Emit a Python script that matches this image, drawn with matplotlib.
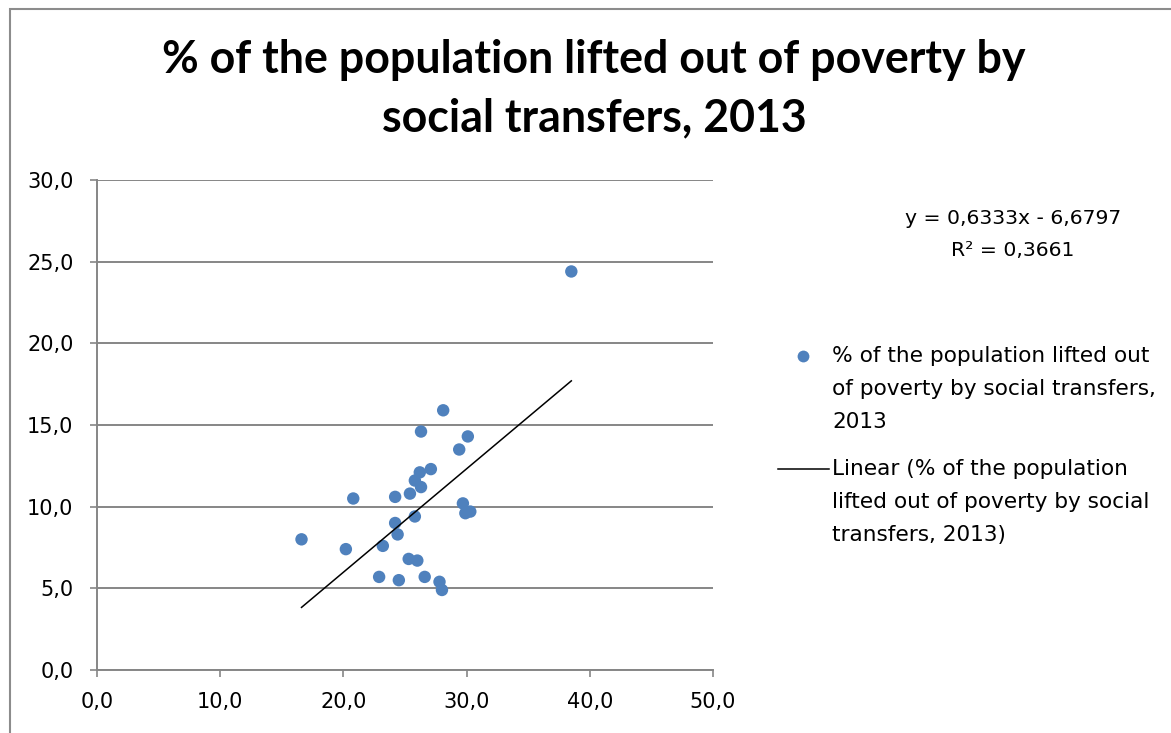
import matplotlib
matplotlib.use("Agg")
import matplotlib.pyplot as plt
from matplotlib.lines import Line2D
from matplotlib.patches import Rectangle
from matplotlib.ticker import FuncFormatter, MultipleLocator

# poverty rate before transfers (x) vs. share lifted out by transfers (y)
before_transfers = [28.1, 26.3, 30.1, 29.4, 27.1, 26.2, 25.8, 26.3, 25.4, 24.2,
                    20.8, 29.7, 29.9, 30.3, 25.8, 24.2, 24.4, 16.6, 20.2, 23.2,
                    25.3, 26.0, 22.9, 24.5, 26.6, 27.8, 28.0, 38.5]
lifted_out = [15.9, 14.6, 14.3, 13.5, 12.3, 12.1, 11.6, 11.2, 10.8, 10.6,
              10.5, 10.2, 9.6, 9.7, 9.4, 9.0, 8.3, 8.0, 7.4, 7.6,
              6.8, 6.7, 5.7, 5.5, 5.7, 5.4, 4.9, 24.4]

# linear trend as reported on the chart
slope = 0.6333
intercept = -6.6797
r_squared = 0.3661

series_label = "% of the population lifted out\nof poverty by social transfers,\n2013"
trend_label = "Linear (% of the population\nlifted out of poverty by social\ntransfers, 2013)"

W, H = 1171, 733
fig = plt.figure(figsize=(W / 100, H / 100), dpi=100)
fig.patch.set_facecolor("white")


def fx(px):
    return px / W


def fy(py):
    return 1 - py / H


# outer chart frame
fig.add_artist(Rectangle((fx(10), -0.1), 1.2, fy(9) + 0.1, transform=fig.transFigure,
                         fill=False, edgecolor="#8c8c8c", linewidth=1.5))

ax = fig.add_axes([fx(97), fy(670), fx(713) - fx(97), fy(180) - fy(670)])

grid_col = "#868686"
ax.set_xlim(0, 50)
ax.set_ylim(0, 30)
ax.xaxis.set_major_locator(MultipleLocator(10))
ax.yaxis.set_major_locator(MultipleLocator(5))
fmt = FuncFormatter(lambda v, pos: f"{v:.1f}".replace(".", ","))
ax.xaxis.set_major_formatter(fmt)
ax.yaxis.set_major_formatter(fmt)

ax.grid(axis="y", color=grid_col, linewidth=1.4)
ax.set_axisbelow(True)
for side in ["top", "right"]:
    ax.spines[side].set_visible(False)
for side in ["left", "bottom"]:
    ax.spines[side].set_color(grid_col)
    ax.spines[side].set_linewidth(1.4)
ax.tick_params(direction="out", length=5, width=1.2, color=grid_col,
               labelsize=15, labelcolor="black")
ax.tick_params(axis="y", pad=12)
ax.tick_params(axis="x", pad=11)

dot_col = "#4F81BD"
ax.scatter(before_transfers, lifted_out, s=80, color=dot_col, edgecolors="none",
           zorder=3, clip_on=False)

x0, x1 = min(before_transfers), max(before_transfers)
ax.plot([x0, x1], [slope * x0 + intercept, slope * x1 + intercept],
        color="black", linewidth=1.1, zorder=4)

# title
title_font = dict(family=["Lato", "DejaVu Sans"], fontweight="bold",
                  fontsize=32.2, ha="center", va="baseline")
fig.text(fx(594), fy(73), "% of the population lifted out of poverty by", **title_font)
fig.text(fx(594), fy(131), "social transfers, 2013", **title_font)

# trend equation
sign = "-" if intercept < 0 else "+"
eq = f"y = {slope:.4f}x {sign} {abs(intercept):.4f}".replace(".", ",")
r2 = f"R² = {r_squared:.4f}".replace(".", ",")
fig.text(fx(1013), fy(218), eq, ha="center", va="center", fontsize=14.7)
fig.text(fx(1013), fy(250), r2, ha="center", va="center", fontsize=14.7)

# legend
line_gap = 33
fig.add_artist(Line2D([fx(803)], [fy(356)], marker="o", markersize=8.5,
                      color=dot_col, markeredgecolor="none", transform=fig.transFigure))
for i, line in enumerate(series_label.split("\n")):
    fig.text(fx(832), fy(356 + i * line_gap), line, ha="left", va="center", fontsize=15.6)

fig.add_artist(Line2D([fx(778), fx(829)], [fy(469), fy(469)], color="black",
                      linewidth=1.1, transform=fig.transFigure))
for i, line in enumerate(trend_label.split("\n")):
    fig.text(fx(832), fy(469 + i * line_gap), line, ha="left", va="center", fontsize=15.6)

fig.savefig("out.png", dpi=100, facecolor="white")
